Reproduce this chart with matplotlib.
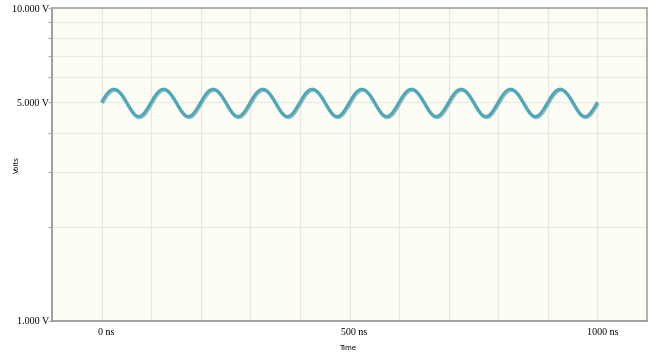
import numpy as np
import matplotlib
matplotlib.use("Agg")
import matplotlib.pyplot as plt
import matplotlib.patheffects as pe
import matplotlib.transforms as mtransforms
from matplotlib.ticker import FixedLocator, NullFormatter

# data
t_ns = np.arange(0, 1001, 2)
offset_v = 5.0
amp_v = 0.5
period_ns = 100.0
volts = offset_v + amp_v * np.sin(2 * np.pi * t_ns / period_ns)

x_ticks = [0, 500, 1000]
x_tick_labels = ["0 ns", "500 ns", "1000 ns"]
x_grid = list(range(-100, 1101, 100))
y_major = [1, 5, 10]
y_major_labels = ["1.000 V", "5.000 V", "10.000 V"]
y_minor = [2, 3, 4, 6, 7, 8, 9]

fig = plt.figure(figsize=(6.49, 3.54), dpi=100)
ax = fig.add_axes([52/649, 1-321/354, 595/649, 313/354])
ax.set_facecolor("#fdfdf5")

ax.plot(t_ns, volts, color="#4aaabd", lw=2.3, solid_capstyle="butt",
        path_effects=[pe.SimpleLineShadow(offset=(0.6, -0.8), shadow_color="#666666", alpha=0.45),
                      pe.Normal()], zorder=3)

ax.set_yscale("log")
ax.set_ylim(1, 10)
ax.set_xlim(-100, 1100)

ax.yaxis.set_major_locator(FixedLocator(y_major))
ax.set_yticklabels(y_major_labels)
ax.yaxis.set_minor_locator(FixedLocator(y_minor))
ax.yaxis.set_minor_formatter(NullFormatter())
ax.set_xticks(x_ticks)
ax.set_xticklabels(x_tick_labels)
ax.xaxis.set_minor_locator(FixedLocator(x_grid))

for y in y_major + y_minor:
    ax.axhline(y, color="#ebebe5", lw=0.9, zorder=1)
for x in x_grid:
    ax.axvline(x, color="#e8e8e2", lw=0.9, zorder=1)

ax.tick_params(axis="y", which="both", length=3, width=0.8, color="#aaaaaa",
               labelsize=7.2, pad=-1)
ax.tick_params(axis="x", which="both", length=0, labelsize=7.2, pad=5)
shift = mtransforms.ScaledTranslation(5/100, 0, fig.dpi_scale_trans)
for lab in ax.get_xticklabels() + ax.get_yticklabels():
    lab.set_fontfamily("Liberation Serif")
for lab in ax.get_xticklabels():
    lab.set_transform(lab.get_transform() + shift)

for side in ["left", "bottom"]:
    ax.spines[side].set_color("#999999")
    ax.spines[side].set_linewidth(1.3)
for side in ["top", "right"]:
    ax.spines[side].set_color("#aaaaaa")
    ax.spines[side].set_linewidth(1.3)

ax.set_xlabel("Time", fontsize=5, family="DejaVu Sans", va="center")
ax.xaxis.set_label_coords((348-52)/595, (321-348)/313)
ax.set_ylabel("Volts", fontsize=5, family="DejaVu Sans", va="center")
ax.yaxis.set_label_coords((17-52)/595, (321-165)/313)

fig.savefig("out.png", dpi=100)
